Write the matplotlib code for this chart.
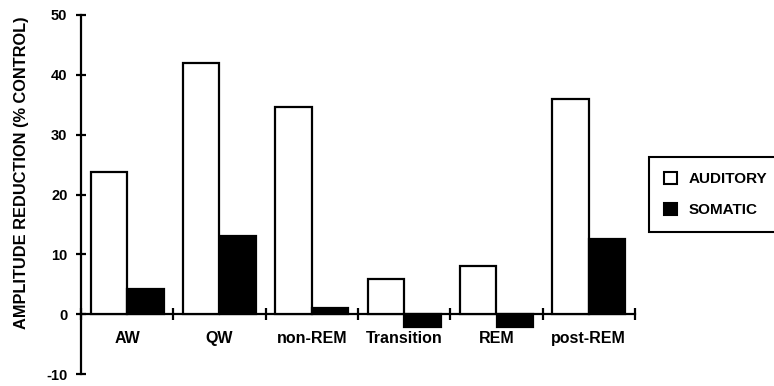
import matplotlib
matplotlib.use("Agg")
import matplotlib.pyplot as plt
import matplotlib.patches as mpatches
import numpy as np

categories = ["AW", "QW", "non-REM", "Transition", "REM", "post-REM"]
auditory = [23.7, 42.0, 34.7, 5.9, 8.1, 36.0]
somatic = [4.2, 13.1, 1.0, -2.1, -2.2, 12.6]
yticks = [-10, 0, 10, 20, 30, 40, 50]

plt.rcParams['font.family'] = ['Liberation Sans', 'DejaVu Sans']
plt.rcParams['font.weight'] = 'bold'

fig = plt.figure(figsize=(7.74, 3.86), dpi=100)
ax = fig.add_axes([81/774, 1-374/386, (635-81)/774, (374-15)/386])

x = np.arange(len(categories))
w = 0.395
lw = 1.6
ax.bar(x - w/2, auditory, width=w, color='white', edgecolor='black', linewidth=lw, zorder=3)
ax.bar(x + w/2, somatic, width=w, color='black', edgecolor='black', linewidth=lw, zorder=3)

ax.set_xlim(-0.5, len(categories) - 0.5)
ax.set_ylim(-10, 50)
ax.spines['top'].set_visible(False)
ax.spines['right'].set_visible(False)
ax.spines['bottom'].set_position(('data', 0))
ax.spines['left'].set_linewidth(lw)
ax.spines['bottom'].set_linewidth(lw)

ax.set_yticks(yticks)
ax.set_yticklabels([str(v) for v in yticks], fontsize=10.5, fontweight='bold')
ax.tick_params(axis='y', direction='inout', length=7.5, width=lw, pad=6)

ax.set_xticks(np.arange(-0.5, len(categories)), minor=False)
ax.set_xticklabels([])
ax.set_xticks(x, minor=True)
ax.set_xticklabels(categories, minor=True, fontsize=11.5, fontweight='bold')
ax.tick_params(axis='x', which='major', direction='inout', length=8, width=lw)
ax.tick_params(axis='x', which='minor', length=0, pad=12)

fig.text(22/774, 1-173/386, "AMPLITUDE REDUCTION (% CONTROL)", rotation=90,
         ha='center', va='center', fontsize=11.8, fontweight='bold')

handles = [mpatches.Patch(facecolor='white', edgecolor='black', linewidth=1.5, label='AUDITORY'),
           mpatches.Patch(facecolor='black', edgecolor='black', linewidth=1.5, label='SOMATIC')]
leg = fig.legend(handles=handles, loc='upper left', bbox_to_anchor=(649/774, 1-157/386),
                 borderaxespad=0, fancybox=False, edgecolor='black', framealpha=1,
                 handlelength=0.85, handleheight=0.85, handletextpad=0.8, borderpad=0.95,
                 labelspacing=1.1, prop={'size': 11, 'weight': 'bold'})
leg.get_frame().set_linewidth(1.5)

fig.savefig("out.png", dpi=100)
